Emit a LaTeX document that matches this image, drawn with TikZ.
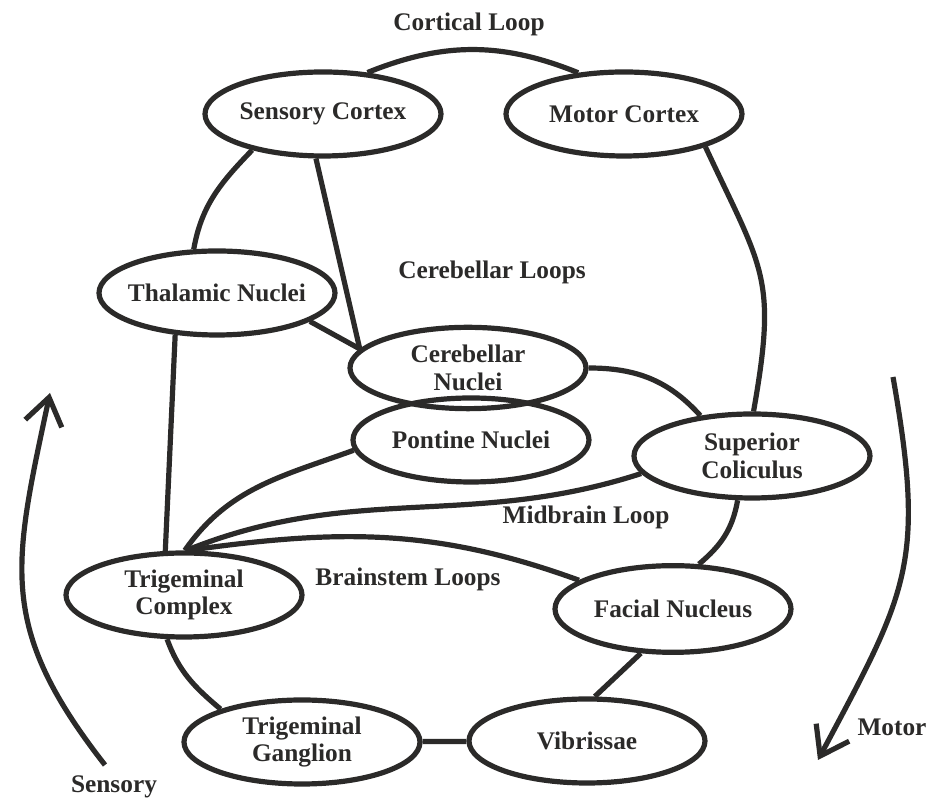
\documentclass[tikz,border=0pt]{standalone}
\usepackage{fontspec}
\setmainfont{Liberation Serif}
\usetikzlibrary{shapes.geometric,arrows.meta}
\definecolor{ink}{HTML}{2B2A29}

\begin{document}
\begin{tikzpicture}[
  x=0.75pt, y=0.75pt,
  every node/.style={font=\fontsize{19}{20.5}\selectfont\bfseries, text=ink, align=center},
  nucleus/.style={ellipse, draw=ink, line width=3.9pt, minimum width=177pt,
    minimum height=63pt, inner xsep=-16pt, inner ysep=0pt},
  pathway/.style={draw=ink, line width=3.9pt},
  flow/.style={draw=ink, line width=3.9pt, -{Straight Barb[length=20pt,width=28pt]}}
]
\useasboundingbox (0,0) rectangle (931,798);

\node[nucleus] (sc) at (323,684) {Sensory Cortex};
\node[nucleus] (mc) at (624,684) {Motor Cortex};
\node[nucleus] (th) at (217,505) {Thalamic Nuclei};
\node[nucleus, minimum height=61pt] (cn) at (468,430) {Cerebellar\\Nuclei};
\node[nucleus] (pn) at (471,358) {Pontine Nuclei};
\node[nucleus] (su) at (752,342) {Superior\\Coliculus};
\node[nucleus] (tc) at (184,203) {Trigeminal\\Complex};
\node[nucleus, minimum height=65pt] (fn) at (673,189) {Facial Nucleus};
\node[nucleus] (tg) at (302,56) {Trigeminal\\Ganglion};
\node[nucleus] (vb) at (587,57) {Vibrissae};

\node (cortical) at (469,774) {Cortical Loop};
\node (cerebellar) at (492,526) {Cerebellar Loops};
\node (midbrain) at (586,281) {Midbrain Loop};
\node (brainstem) at (408,219) {Brainstem Loops};
\node (sensory) at (114,11) {Sensory};
\node (motor) at (892,71) {Motor};

% cortical loop
\draw[pathway] (sc.43) to[out=22,in=158] (mc.138);
\draw[pathway] (sc.207) to[out=226,in=80] (th.118);
\draw[pathway] (mc.338) to[out=295,in=80,looseness=1.3] (su.88);

% cerebellar loops
\draw[pathway] (sc.261) -- (cn.170);
\draw[pathway] (th.343) -- (cn.170);
\draw[pathway] (cn.0) to[out=0,in=132] (su.142);
\draw[pathway] (pn.185) to[out=200,in=55] (tc.89);

% midbrain and brainstem loops
\draw[pathway] (th.225) -- (tc.113);
\draw[pathway] (su.189) to[out=198,in=22] (tc.87);
\draw[pathway] (tc.85) to[out=8,in=160] (fn.163);
\draw[pathway] (su.252) to[out=260,in=40] (fn.60);
\draw[pathway] (fn.234) -- (vb.80);
\draw[pathway] (tc.249) to[out=290,in=140] (tg.158);
\draw[pathway] (tg) -- (vb);

% sensory and motor streams
\coordinate (sensoryfoot) at (105,33);
\coordinate (sensorytip) at (50,405);
\coordinate (motorhead) at (893,421);
\coordinate (motortip) at (818,38);
\draw[flow] (sensoryfoot) to[out=128,in=258,looseness=1.2] (sensorytip);
\draw[flow] (motorhead) to[out=280,in=62,looseness=1.25] (motortip);
\end{tikzpicture}
\end{document}
